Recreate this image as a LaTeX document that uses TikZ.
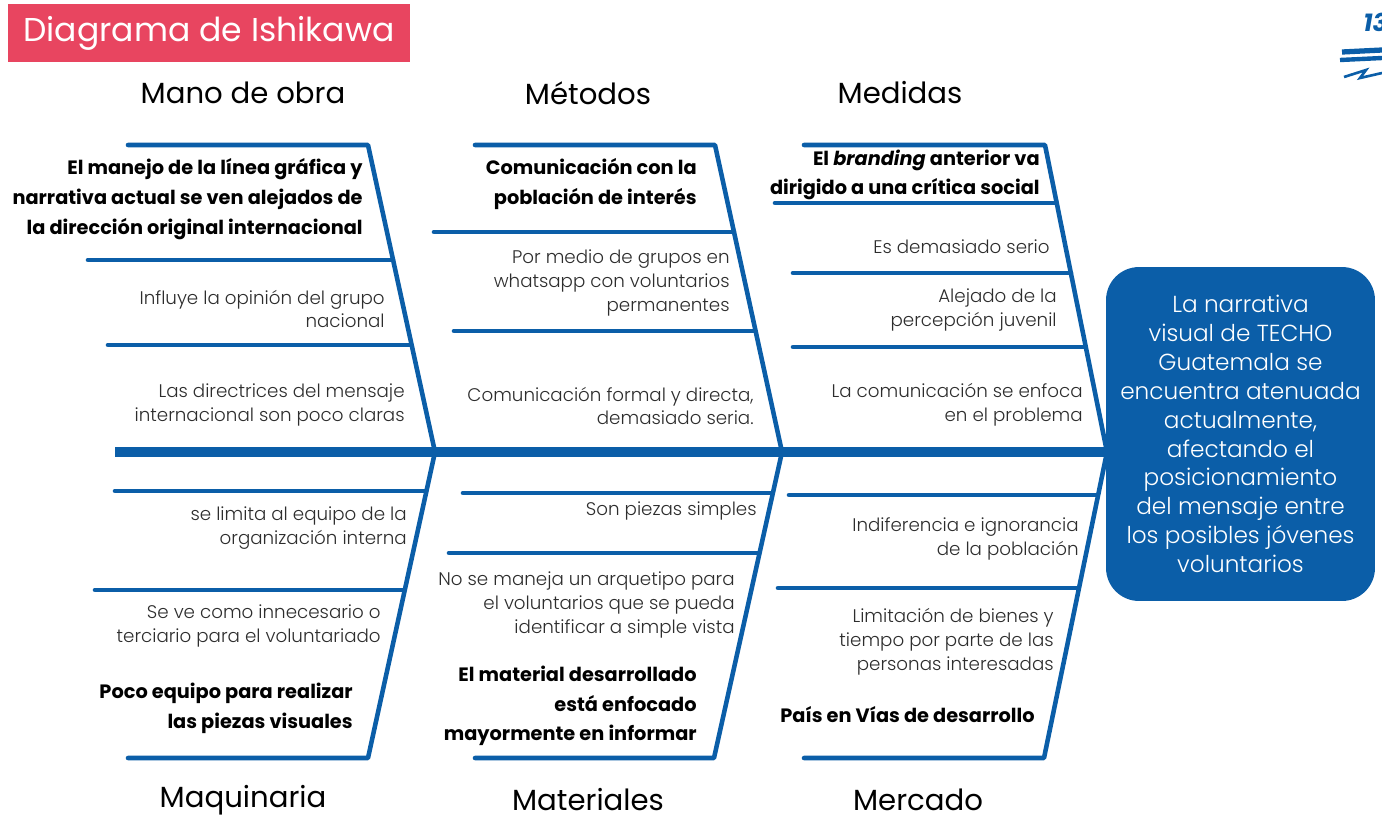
\documentclass[tikz,border=0pt]{standalone}
\usepackage{fontspec}
\setmainfont{Poppins}
\newfontfamily\lightfont{Poppins Light}
\usepackage{xcolor}
\usepackage{tikz}
\usetikzlibrary{positioning}

\definecolor{fishblue}{RGB}{11,94,168}
\definecolor{titlered}{RGB}{232,69,96}
\definecolor{txtgray}{RGB}{45,45,45}
\newcommand{\causefont}{\lightfont\fontsize{10.4}{13.6}\selectfont}
\newcommand{\keycausefont}{\bfseries\fontsize{11}{16.9}\selectfont}
\newcommand{\catlabelfont}{\fontsize{16.6}{19}\selectfont}
\newcommand{\effectfont}{\lightfont\fontsize{13.2}{16.4}\selectfont}

\begin{document}
\begin{tikzpicture}[x=0.02cm,y=-0.02cm,
  bone/.style={draw=fishblue,line width=2.6pt,line cap=round,line join=round},
  spine/.style={draw=fishblue,line width=6.2pt},
  cause/.style={anchor=east,align=right,text=txtgray,font=\causefont,inner sep=0pt},
  keycause/.style={anchor=east,align=right,text=black,font=\keycausefont,inner sep=0pt},
  cat/.style={font=\catlabelfont,text=black}
]
\useasboundingbox (0,0) rectangle (1382,819);

%% title
\node[fill=titlered,text=white,minimum width=8.04cm,minimum height=1.16cm,
  inner sep=0pt,font=\fontsize{18.8}{22}\selectfont] (title) at (209,33)
  {Diagrama de Ishikawa};

%% logo corner (cut off)
\node[text=fishblue,font=\bfseries\itshape\fontsize{14}{16}\selectfont,
  anchor=west,inner sep=0pt] (logo) at (1363,22) {13};
\draw[fishblue,line width=3pt] (1342,52) -- (1382,50);
\draw[fishblue,line width=2.5pt] (1340,60) -- (1382,58);
\draw[fishblue,line width=1.5pt] (1344,77) -- (1366,70) -- (1360,78) -- (1382,73);

%% head and spine
\coordinate (tail) at (115,452);
\coordinate (jA) at (435,452);
\coordinate (jB) at (782,452);
\coordinate (jC) at (1107,452);
\node[fill=fishblue,rounded corners=0.66cm,minimum width=5.38cm,
  minimum height=6.68cm,text=white,align=center,font=\effectfont] (effect)
  at (1240.5,434) {La narrativa\\visual de TECHO\\Guatemala se\\
  encuentra atenuada\\actualmente,\\afectando el\\posicionamiento\\
  del mensaje entre\\los posibles jóvenes\\voluntarios};
\draw[spine] (tail) -- (tail -| effect.west);

%% top bones
\draw[bone] (128,145) -- (368,145) -- (jA);
\draw[bone] (88,260) -- (393,260);
\draw[bone] (108,345) -- (411,345);
\draw[bone] (475,145) -- (715,145) -- (jB);
\draw[bone] (434,232) -- (734,232);
\draw[bone] (454,331) -- (755,331);
\draw[bone] (804,145) -- (1045,145) -- (jC);
\draw[bone] (775,203) -- (1056,203);
\draw[bone] (793,273) -- (1071,273);
\draw[bone] (793,347) -- (1085,347);

%% bottom bones
\draw[bone] (jA) -- (368,758) -- (128,758);
\draw[bone] (115,491) -- (426,491);
\draw[bone] (95,590) -- (404,590);
\draw[bone] (jB) -- (714,758) -- (475,758);
\draw[bone] (463,493) -- (772,493);
\draw[bone] (449,553) -- (759,553);
\draw[bone] (jC) -- (1044,758) -- (804,758);
\draw[bone] (789,495) -- (1097,495);
\draw[bone] (778,588) -- (1078,588);

%% categories
\node[cat] (mano) at (243,93) {Mano de obra};
\node[cat] (metodos) at (588,93) {Métodos};
\node[cat] (medidas) at (900,93) {Medidas};
\node[cat] (maquinaria) at (243,800) {Maquinaria};
\node[cat] (materiales) at (588,800) {Materiales};
\node[cat] (mercado) at (918,800) {Mercado};

%% Mano de obra
\node[keycause] (mo1) at (363,199) {El manejo de la línea gráfica y\\
  narrativa actual se ven alejados de\\la dirección original internacional};
\node[cause] (mo2) at (385,309) {Influye la opinión del grupo\\nacional};
\node[cause] (mo3) at (405,405) {Las directrices del mensaje\\
  internacional son poco claras};

%% Métodos
\node[keycause] (me1) at (697,184) {Comunicación con la\\población de interés};
\node[cause] (me2) at (730,283) {Por medio de grupos en\\
  whatsapp con voluntarios\\permanentes};
\node[cause] (me3) at (754,406) {Comunicación formal y directa,\\
  demasiado seria.};

%% Medidas
\node[keycause] (md1) at (1040,175) {El \textit{branding} anterior va\\
  dirigido a una crítica social};
\node[cause] (md2) at (1050,247) {Es demasiado serio};
\node[cause] (md3) at (1057,310) {Alejado de la\\percepción juvenil};
\node[cause] (md4) at (1083,405) {La comunicación se enfoca\\en el problema};

%% Maquinaria
\node[cause] (mq1) at (407,528) {se limita al equipo de la\\organización interna};
\node[cause] (mq2) at (381,626) {Se ve como innecesario o\\
  terciario para el voluntariado};
\node[keycause] (mq3) at (353,708) {Poco equipo para realizar\\
  las piezas visuales};

%% Materiales
\node[cause] (mt1) at (757,511) {Son piezas simples};
\node[cause] (mt2) at (735,605) {No se maneja un arquetipo para\\
  el voluntarios que se pueda\\identificar a simple vista};
\node[keycause] (mt3) at (697,706) {El material desarrollado\\
  está enfocado\\mayormente en informar};

%% Mercado
\node[cause] (mc1) at (1079,539) {Indiferencia e ignorancia\\de la población};
\node[cause] (mc2) at (1054,642) {Limitación de bienes y\\
  tiempo por parte de las\\personas interesadas};
\node[keycause] (mc3) at (1035,715) {País en Vías de desarrollo};
\end{tikzpicture}
\end{document}
